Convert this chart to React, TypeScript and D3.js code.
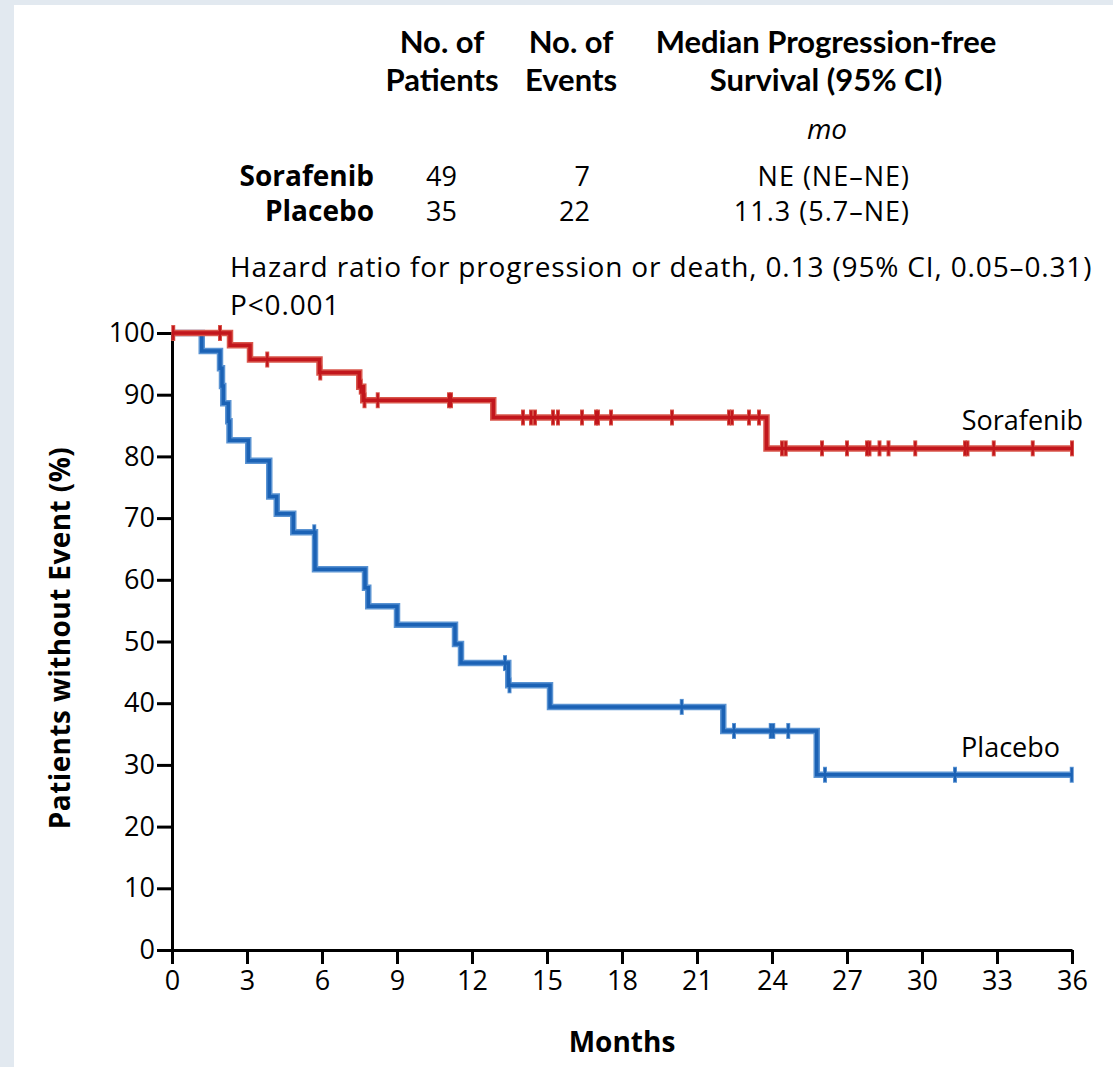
import * as d3 from 'd3'
import { useEffect, useRef } from 'react'

// Sorafenib arm: event times (months) and survival (%) after each step
const sorafenibEventMonths = [2.32, 3.12, 5.9, 7.49, 7.65, 12.85, 23.78]
const sorafenibSurvival = [98.0, 95.7, 93.6, 91.3, 89.1, 86.3, 81.3]
const sorafenibCensored = [0.05, 1.92, 3.81, 5.93, 7.55, 7.7, 8.23, 11.08, 11.16, 14.04, 14.36, 14.52,
  15.24, 15.44, 16.4, 16.96, 17.04, 17.56, 20.0, 22.28, 22.4, 23.08, 23.48, 24.4, 24.55, 26.0, 27.0,
  27.8, 27.9, 28.3, 28.66, 29.73, 31.72, 31.82, 32.87, 34.43, 36.0]

// Placebo arm
const placeboEventMonths = [1.19, 1.92, 2.0, 2.05, 2.25, 2.3, 3.05, 3.89, 4.19, 4.85, 5.72, 7.72, 7.85,
  9.0, 11.32, 11.56, 13.45, 15.12, 22.05, 25.79]
const placeboSurvival = [97.1, 94.3, 91.4, 88.6, 85.7, 82.6, 79.3, 73.5, 70.7, 67.7, 61.7, 58.7, 55.7,
  52.7, 49.6, 46.5, 42.9, 39.4, 35.5, 28.4]
const placeboCensored = [5.69, 13.32, 13.5, 20.39, 22.48, 23.95, 24.05, 24.65, 26.12, 31.32, 35.99]

const xTicks = [0, 3, 6, 9, 12, 15, 18, 21, 24, 27, 30, 33, 36]
const yTicks = [0, 10, 20, 30, 40, 50, 60, 70, 80, 90, 100]

const tableRows = [
  { name: 'Sorafenib', patients: '49', events: '7', median: 'NE (NE\u2013NE)' },
  { name: 'Placebo', patients: '35', events: '22', median: '11.3 (5.7\u2013NE)' },
]

const W = 1113
const H = 1067
const FONT = '"Open Sans", "Noto Sans", sans-serif'
const HEAD_FONT = 'Lato, "Noto Sans", sans-serif'

const x = d3.scaleLinear().domain([0, 36]).range([172, 1072])
const y = d3.scaleLinear().domain([0, 100]).range([950, 333])

function stepPoints (times: number[], surv: number[]) {
  const pts: [number, number][] = [[0, 100]]
  times.forEach((t, i) => pts.push([t, surv[i]]))
  pts.push([36, surv[surv.length - 1]])
  return pts
}

function survivalAt (times: number[], surv: number[], t: number) {
  let s = 100
  times.forEach((tt, i) => { if (tt <= t) s = surv[i] })
  return s
}

const line = d3.line<[number, number]>()
  .x(d => x(d[0]))
  .y(d => y(d[1]))
  .curve(d3.curveStepAfter)

function Curve ({ times, surv, censored, color, halo }:
  { times: number[], surv: number[], censored: number[], color: string, halo: string }) {
  const path = line(stepPoints(times, surv)) || ''
  const marks = censored.map(t => ({ cx: x(t), cy: y(survivalAt(times, surv, t)) }))
  return (
    <g fill='none' strokeLinejoin='miter'>
      <path d={path} stroke={halo} strokeWidth={6.5} />
      {marks.map((m, i) => (
        <line key={'h' + i} x1={m.cx} x2={m.cx} y1={m.cy - 8} y2={m.cy + 8} stroke={halo} strokeWidth={4} />
      ))}
      <path d={path} stroke={color} strokeWidth={3.5} />
      {marks.map((m, i) => (
        <line key={'c' + i} x1={m.cx} x2={m.cx} y1={m.cy - 7} y2={m.cy + 7} stroke={color} strokeWidth={2.2} />
      ))}
    </g>
  )
}

export default function App () {
  const xAxisRef = useRef<SVGGElement>(null)
  const yAxisRef = useRef<SVGGElement>(null)

  useEffect(() => {
    const gx = d3.select(xAxisRef.current)
    gx.selectAll('*').remove()
    gx.call(d3.axisBottom(x).tickValues(xTicks).tickSize(14).tickSizeOuter(0).tickPadding(7))
    gx.select('.domain').attr('stroke', '#000').attr('stroke-width', 3)
    gx.selectAll('.tick line').attr('stroke', '#000').attr('stroke-width', 3)
    gx.selectAll('.tick text').attr('font-size', 27).attr('font-family', FONT).attr('fill', '#000')

    const gy = d3.select(yAxisRef.current)
    gy.selectAll('*').remove()
    gy.call(d3.axisLeft(y).tickValues(yTicks).tickSize(15).tickSizeOuter(0).tickPadding(2))
    gy.select('.domain').attr('stroke', '#000').attr('stroke-width', 3)
    gy.selectAll('.tick line').attr('stroke', '#000').attr('stroke-width', 3)
    gy.selectAll('.tick text').attr('font-size', 27).attr('font-family', FONT).attr('fill', '#000')
  }, [])

  return (
    <svg width={W} height={H} style={{ position: 'absolute', left: 0, top: 0 }} fontFamily={FONT}>
      <rect width={W} height={H} fill='#e2e9f0' />
      <rect x={14} y={5} width={W - 14} height={H - 5} fill='#fff' />

      {/* table header */}
      <g fontWeight={700} fontSize={31} textAnchor='middle' fontFamily={HEAD_FONT}>
        <text x={442} y={53}>No. of</text>
        <text x={442} y={91}>Patients</text>
        <text x={571} y={53}>No. of</text>
        <text x={571} y={91}>Events</text>
        <text x={826} y={53}>Median Progression-free</text>
        <text x={826} y={91}>Survival (95% CI)</text>
      </g>
      <text x={827} y={139} fontSize={28} fontStyle='italic' textAnchor='middle'>mo</text>
      {tableRows.map((r, i) => (
        <g key={r.name} fontSize={27}>
          <text x={374} y={186 + i * 35} textAnchor='end' fontWeight={700} fontSize={28}>{r.name}</text>
          <text x={457} y={186 + i * 35} textAnchor='end'>{r.patients}</text>
          <text x={590} y={186 + i * 35} textAnchor='end'>{r.events}</text>
          <text x={910} y={186 + i * 35} textAnchor='end' letterSpacing={1}>{r.median}</text>
        </g>
      ))}
      <text x={230} y={277} fontSize={28} letterSpacing={0.85}>
        Hazard ratio for progression or death, 0.13 (95% CI, 0.05{'\u2013'}0.31)
      </text>
      <text x={230} y={315} fontSize={28} letterSpacing={0.85}>P{'<'}0.001</text>

      <g ref={xAxisRef} transform={`translate(0,${y(0)})`} />
      <g ref={yAxisRef} transform={`translate(${x(0)},0)`} />

      <Curve times={placeboEventMonths} surv={placeboSurvival} censored={placeboCensored}
        color='#1b62b5' halo='#5a93d2' />
      <Curve times={sorafenibEventMonths} surv={sorafenibSurvival} censored={sorafenibCensored}
        color='#c2161c' halo='#d9574c' />

      <text x={1083} y={430} fontSize={27} textAnchor='end'>Sorafenib</text>
      <text x={1060} y={757} fontSize={27} textAnchor='end'>Placebo</text>

      <text transform='translate(70,638) rotate(-90)' textAnchor='middle' fontWeight={700} fontSize={28}
        letterSpacing={0.4}>
        Patients without Event (%)
      </text>
      <text x={622} y={1052} textAnchor='middle' fontWeight={700} fontSize={28}>Months</text>
    </svg>
  )
}
